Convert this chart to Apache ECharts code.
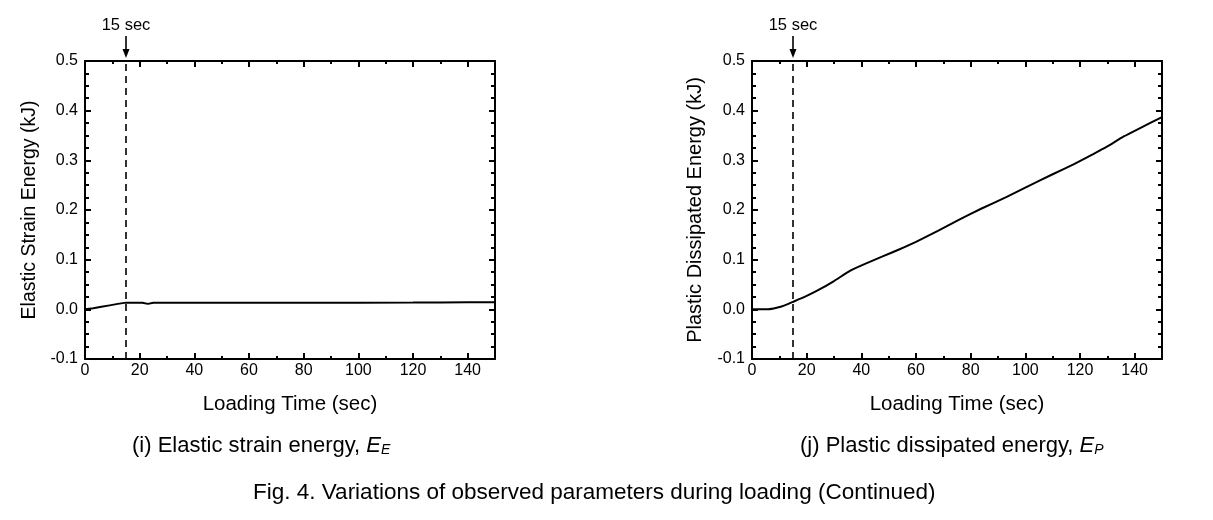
<!DOCTYPE html>
<html><head><meta charset="utf-8">
<script src="https://cdn.jsdelivr.net/npm/echarts@6/dist/echarts.min.js"></script>
<style>html,body{margin:0;padding:0;background:#fff}#c{width:1213px;height:520px}</style>
</head><body><div id="c"></div>
<script>
// Data
const elasticTime = [0, 3, 6, 9, 12, 15, 18, 21, 23, 25, 30, 40, 60, 80, 100, 120, 130, 140, 150];
const elasticEnergy = [0, 0.002, 0.005, 0.008, 0.011, 0.0135, 0.0135, 0.0133, 0.011, 0.0132, 0.0132, 0.0132, 0.0132, 0.0132, 0.0135, 0.0137, 0.014, 0.0143, 0.0145];
const plasticTime = [0, 3, 6, 9, 12, 15, 20, 24, 30, 36, 42, 48, 54, 60, 68, 76, 84, 93, 100, 110, 118, 125, 130, 136, 142, 150];
const plasticEnergy = [0, 0, 0, 0.003, 0.008, 0.015, 0.027, 0.038, 0.057, 0.078, 0.093, 0.107, 0.121, 0.136, 0.158, 0.181, 0.203, 0.226, 0.245, 0.272, 0.293, 0.313, 0.328, 0.348, 0.365, 0.387];
const xTicks = [0, 20, 40, 60, 80, 100, 120, 140];
const yTicks = [-0.1, 0.0, 0.1, 0.2, 0.3, 0.4, 0.5];
const markTime = 15;
const markLabel = '15 sec';
const xName = 'Loading Time (sec)';
const yNames = ['Elastic Strain Energy (kJ)', 'Plastic Dissipated Energy (kJ)'];
const captions = ['(i) Elastic strain energy, ', '(j) Plastic dissipated energy, '];
const capSubs = [['E', 'E'], ['E', 'P']];
const figCaption = 'Fig. 4. Variations of observed parameters during loading (Continued)';

const FONT = 'Liberation Sans, Arial, sans-serif';
const CAPFONT = 'Liberation Sans Narrow, Liberation Sans, sans-serif';
const grids = [
  {left: 85, top: 61, width: 410, height: 298},
  {left: 752, top: 61, width: 410, height: 298}
];
const axisLine = {show: true, onZero: false, lineStyle: {color: '#000', width: 2}};
const xAxes = [], yAxes = [], series = [];
const datasets = [[elasticTime, elasticEnergy], [plasticTime, plasticEnergy]];
grids.forEach((g, i) => {
  xAxes.push({
    gridIndex: i, type: 'value', min: 0, max: 150, interval: 20, position: 'bottom',
    name: xName, nameLocation: 'middle', nameGap: 35,
    nameTextStyle: {fontFamily: FONT, fontSize: 20.5, color: '#000'},
    axisLine, splitLine: {show: false},
    axisTick: {show: true, inside: true, length: 6, lineStyle: {color: '#000', width: 2}},
    minorTick: {show: true, splitNumber: 2, length: 3, lineStyle: {color: '#000', width: 2}},
    axisLabel: {fontFamily: FONT, fontSize: 16, color: '#000', margin: 4,
      formatter: v => xTicks.includes(v) ? String(v) : ''}
  });
  xAxes.push({
    gridIndex: i, type: 'value', min: 0, max: 150, interval: 20, position: 'top',
    axisLine, splitLine: {show: false}, axisLabel: {show: false},
    axisTick: {show: true, inside: true, length: 6, lineStyle: {color: '#000', width: 2}},
    minorTick: {show: true, splitNumber: 2, length: 3, lineStyle: {color: '#000', width: 2}}
  });
  yAxes.push({
    gridIndex: i, type: 'value', min: -0.1, max: 0.5, interval: 0.1, position: 'left',
    name: yNames[i], nameLocation: 'middle', nameGap: i === 0 ? 45 : 47,
    nameTextStyle: {fontFamily: FONT, fontSize: i === 0 ? 19.5 : 20, color: '#000'},
    axisLine, splitLine: {show: false},
    axisTick: {show: true, inside: true, length: 6, lineStyle: {color: '#000', width: 2}},
    minorTick: {show: true, splitNumber: 4, length: 4, lineStyle: {color: '#000', width: 2}},
    axisLabel: {fontFamily: FONT, fontSize: 16, color: '#000', margin: 7,
      formatter: v => v.toFixed(1)}
  });
  yAxes.push({
    gridIndex: i, type: 'value', min: -0.1, max: 0.5, interval: 0.1, position: 'right',
    axisLine, splitLine: {show: false}, axisLabel: {show: false},
    axisTick: {show: true, inside: true, length: 6, lineStyle: {color: '#000', width: 2}},
    minorTick: {show: true, splitNumber: 4, length: 4, lineStyle: {color: '#000', width: 2}}
  });
  const [xs, ys] = datasets[i];
  series.push({
    type: 'line', xAxisIndex: i * 2, yAxisIndex: i * 2,
    data: xs.map((x, k) => [x, ys[k]]), showSymbol: false, smooth: i === 0 ? false : 0.15,
    lineStyle: {color: '#000', width: 2}, z: 5,
    markLine: {
      silent: true, symbol: ['none', 'none'], animation: false,
      label: {show: false},
      lineStyle: {type: [7, 5], width: 1.6, color: '#000'},
      data: [[{coord: [markTime, -0.1]}, {coord: [markTime, 0.5]}]]
    }
  });
});

const titles = captions.map((c, i) => ({
  text: '{n|' + c + '}{it|' + capSubs[i][0] + '}{sub|' + capSubs[i][1] + '}',
  left: i === 0 ? 127 : 795, top: 429,
  textStyle: {fontWeight: 'normal', rich: {
    n: {fontFamily: CAPFONT, fontWeight: 'normal', fontSize: 22, color: '#000'},
    it: {fontFamily: CAPFONT, fontWeight: 'normal', fontStyle: 'italic', fontSize: 22, color: '#000'},
    sub: {fontFamily: CAPFONT, fontWeight: 'normal', fontStyle: 'italic', fontSize: 14, color: '#000', verticalAlign: 'bottom', padding: [9, 0, 0, 0]}
  }}
}));
titles.push({
  text: figCaption, left: 248, top: 476,
  textStyle: {fontFamily: CAPFONT, fontWeight: 'normal', fontSize: 22.5, color: '#000'}
});

const chart = echarts.init(document.getElementById('c'), null, {renderer: 'canvas'});
chart.setOption({
  animation: false, backgroundColor: '#fff',
  title: titles, grid: grids, xAxis: xAxes, yAxis: yAxes, series
});

// Arrow annotation above each plot, positioned through the axes
const graphics = [];
[0, 1].forEach(i => {
  const top = chart.convertToPixel({xAxisIndex: i * 2, yAxisIndex: i * 2}, [markTime, 0.5]);
  const x = top[0];
  const y0 = top[1] - 25, y1 = top[1] - 3;
  graphics.push({type: 'line', shape: {x1: x, y1: y0, x2: x, y2: y1 - 8}, style: {stroke: '#000', lineWidth: 1.6}});
  graphics.push({type: 'polygon', shape: {points: [[x - 3.5, y1 - 9], [x + 3.5, y1 - 9], [x, y1]]}, style: {fill: '#000'}});
  graphics.push({type: 'text', x: x, y: y0 - 2, style: {text: markLabel, fontFamily: FONT, fontSize: 16.5, fill: '#000', textAlign: 'center', textVerticalAlign: 'bottom'}});
});
chart.setOption({graphic: graphics});
</script></body></html>
